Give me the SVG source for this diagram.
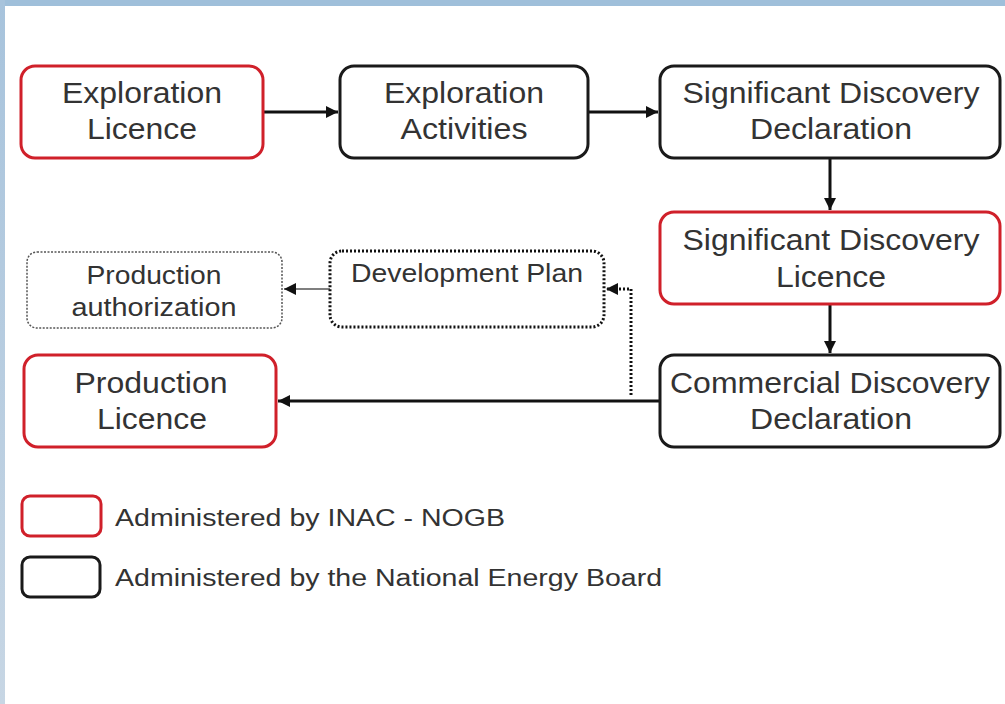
<svg xmlns="http://www.w3.org/2000/svg" width="1005" height="704" viewBox="0 0 1005 704">
<style>
.box{fill:#fff;stroke-width:3}
.red{stroke:#d0202a}
.blk{stroke:#1a1a1a}
.t{font-family:"Liberation Sans",Arial,sans-serif;font-size:29px;fill:#333;text-anchor:middle}
.ts{font-family:"Liberation Sans",Arial,sans-serif;font-size:25px;fill:#333;text-anchor:middle}
.tl{font-family:"Liberation Sans",Arial,sans-serif;font-size:23px;fill:#333}
.c{fill:none;stroke:#111;stroke-width:3}
</style>
<defs>
<marker id="ah" viewBox="0 0 10 10" refX="10" refY="5" markerWidth="6" markerHeight="6" markerUnits="userSpaceOnUse" orient="auto">
<path d="M0,0L10,5L0,10z" fill="#111"/>
</marker>
<marker id="ah2" viewBox="0 0 10 10" refX="10" refY="5" markerWidth="16" markerHeight="12" markerUnits="userSpaceOnUse" orient="auto">
<path d="M0,0L10,5L0,10z" fill="#111"/>
</marker>
<linearGradient id="lg" x1="0" y1="0" x2="0" y2="1">
<stop offset="0" stop-color="#a7c3dc"/>
<stop offset="1" stop-color="#c7d6e4"/>
</linearGradient>
</defs>
<rect width="1005" height="704" fill="#fff"/>
<rect x="0" y="0" width="1005" height="6" fill="#9fbfda"/>
<rect x="0" y="0" width="5" height="704" fill="url(#lg)"/>

<g id="connectors">
<line class="c" x1="263" y1="112" x2="338" y2="112" marker-end="url(#ah2)"/>
<line class="c" x1="588" y1="112" x2="658" y2="112" marker-end="url(#ah2)"/>
<line class="c" x1="830" y1="158" x2="830" y2="210" marker-end="url(#ah2)"/>
<line class="c" x1="830" y1="304" x2="830" y2="353" marker-end="url(#ah2)"/>
<line class="c" x1="660" y1="401" x2="278" y2="401" marker-end="url(#ah2)"/>
<path d="M631,395V289H606" fill="none" stroke="#111" stroke-width="3" stroke-dasharray="2,2" marker-end="url(#ah2)"/>
<line x1="330" y1="289" x2="284" y2="289" stroke="#555" stroke-width="1.5" marker-end="url(#ah2)"/>
</g>

<g id="exploration-licence">
<rect class="box red" x="21" y="66" width="242" height="92" rx="14"/>
<text class="t" x="142" y="103" textLength="160" lengthAdjust="spacingAndGlyphs">Exploration</text>
<text class="t" x="142" y="139" textLength="110" lengthAdjust="spacingAndGlyphs">Licence</text>
</g>
<g id="exploration-activities">
<rect class="box blk" x="340" y="66" width="248" height="92" rx="14"/>
<text class="t" x="464" y="103" textLength="160" lengthAdjust="spacingAndGlyphs">Exploration</text>
<text class="t" x="464" y="139" textLength="127" lengthAdjust="spacingAndGlyphs">Activities</text>
</g>
<g id="significant-discovery-declaration">
<rect class="box blk" x="660" y="66" width="340" height="92" rx="14"/>
<text class="t" x="831" y="103" textLength="297" lengthAdjust="spacingAndGlyphs">Significant Discovery</text>
<text class="t" x="831" y="139" textLength="162" lengthAdjust="spacingAndGlyphs">Declaration</text>
</g>
<g id="significant-discovery-licence">
<rect class="box red" x="660" y="212" width="340" height="92" rx="14"/>
<text class="t" x="831" y="250" textLength="297" lengthAdjust="spacingAndGlyphs">Significant Discovery</text>
<text class="t" x="831" y="287" textLength="110" lengthAdjust="spacingAndGlyphs">Licence</text>
</g>
<g id="commercial-discovery-declaration">
<rect class="box blk" x="660" y="355" width="340" height="92" rx="14"/>
<text class="t" x="830" y="393" textLength="320" lengthAdjust="spacingAndGlyphs">Commercial Discovery</text>
<text class="t" x="831" y="429" textLength="162" lengthAdjust="spacingAndGlyphs">Declaration</text>
</g>
<g id="production-licence">
<rect class="box red" x="24" y="355" width="252" height="92" rx="14"/>
<text class="t" x="151" y="393" textLength="153" lengthAdjust="spacingAndGlyphs">Production</text>
<text class="t" x="152" y="429" textLength="110" lengthAdjust="spacingAndGlyphs">Licence</text>
</g>
<g id="production-authorization">
<rect x="27" y="252" width="255" height="76" rx="10" fill="#fff" stroke="#555" stroke-width="1.5" stroke-dasharray="2,1.5"/>
<text class="ts" x="154" y="284" textLength="135" lengthAdjust="spacingAndGlyphs">Production</text>
<text class="ts" x="154" y="316" textLength="165" lengthAdjust="spacingAndGlyphs">authorization</text>
</g>
<g id="development-plan">
<rect x="330" y="251" width="274" height="76" rx="12" fill="#fff" stroke="#111" stroke-width="3" stroke-dasharray="2,2"/>
<text class="ts" x="467" y="282" textLength="232" lengthAdjust="spacingAndGlyphs">Development Plan</text>
</g>
<g id="legend-inac">
<rect class="box red" x="22" y="496" width="79" height="40" rx="8"/>
<text class="tl" x="115" y="526" textLength="390" lengthAdjust="spacingAndGlyphs">Administered by INAC - NOGB</text>
</g>
<g id="legend-neb">
<rect class="box blk" x="22" y="557" width="78" height="40" rx="8"/>
<text class="tl" x="115" y="586" textLength="547" lengthAdjust="spacingAndGlyphs">Administered by the National Energy Board</text>
</g>
</svg>
